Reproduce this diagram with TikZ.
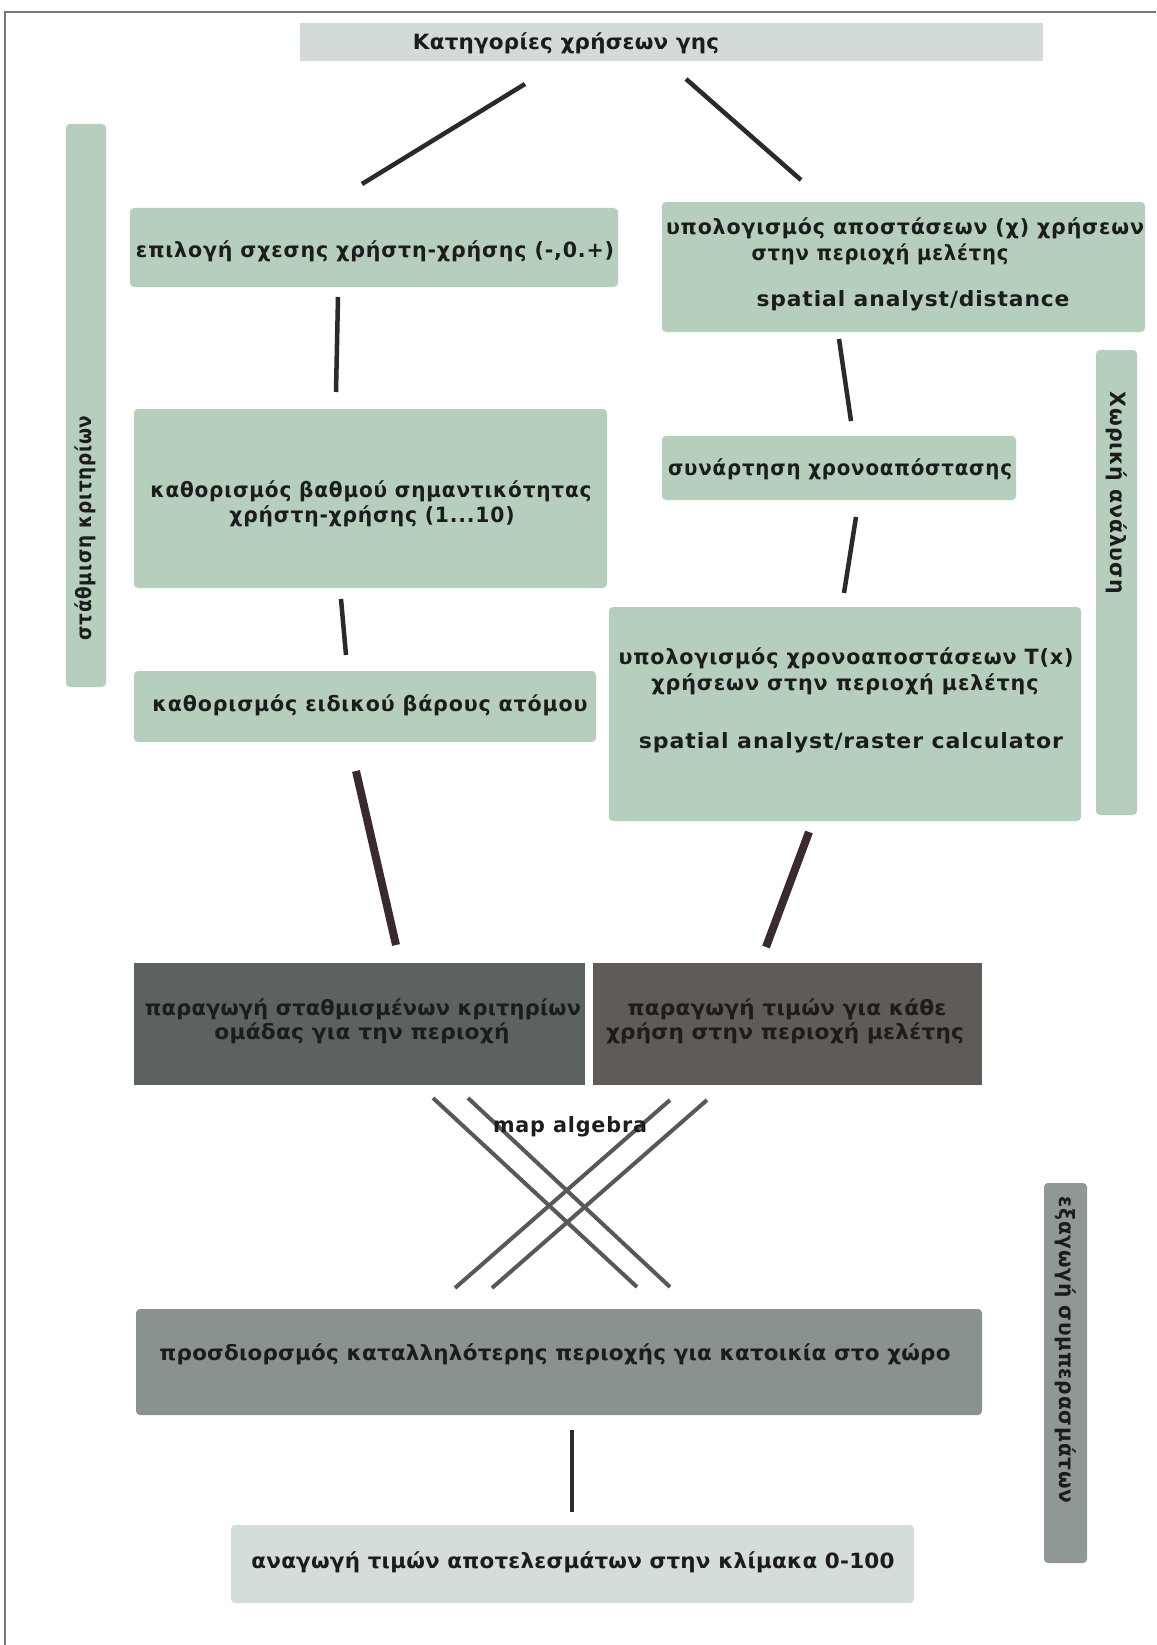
\documentclass[tikz,border=0pt]{standalone}
\usepackage{fontspec}
\usepackage{graphicx}
\setmainfont{DejaVu Sans}[LetterSpace=4]
\newfontfamily\condf{DejaVu Sans}[LetterSpace=1]
\newcommand\fitw[2]{\resizebox{#1}{\height}{#2}}
\definecolor{boxgreen}{RGB}{182,207,188}
\definecolor{topgray}{RGB}{211,219,214}
\definecolor{botgray}{RGB}{213,221,216}
\definecolor{darkA}{RGB}{92,98,94}
\definecolor{darkB}{RGB}{95,91,87}
\definecolor{midgray}{RGB}{138,146,141}
\definecolor{bargray}{RGB}{143,152,147}
\definecolor{connc}{RGB}{45,40,43}
\definecolor{thickc}{RGB}{58,42,47}
\definecolor{xlinec}{RGB}{88,88,88}
\definecolor{txtc}{RGB}{28,28,28}
\definecolor{framec}{RGB}{120,120,120}
\begin{document}
\begin{tikzpicture}[x=1pt,y=-1pt,
  box/.style={inner sep=0pt, outer sep=0pt, rounded corners=4pt},
  gbox/.style={box, fill=boxgreen},
  sqbox/.style={inner sep=0pt, outer sep=0pt},
  txt/.style={inner sep=0pt, text=txtc, font=\bfseries\fontsize{21}{24}\selectfont, text height=15pt, text depth=4.5pt},
  ctxt/.style={inner sep=0pt, text=txtc, font=\condf\bfseries\fontsize{21}{24}\selectfont, text height=15pt, text depth=4.5pt},
  conn/.style={draw=connc, line width=4.5pt},
  thick/.style={draw=thickc, line width=8pt},
  xl/.style={draw=xlinec, line width=4pt}
]
\useasboundingbox (0,0) rectangle (1156,1645);
\fill[white] (0,0) rectangle (1156,1645);
\draw[framec, line width=1.5pt] (5,1645) -- (5,12) -- (1156,12);

% boxes
\node[sqbox, fill=topgray, minimum width=743pt, minimum height=38pt] (top) at (671.5,42) {};
\node[ctxt] (topt) at (566,44) {\fitw{306pt}{Κατηγορίες χρήσεων γης}};

\node[gbox, minimum width=40pt, minimum height=563pt] (lbar) at (86,405.5) {};
\node[txt, rotate=90] (lbart) at (86,528) {\fitw{225pt}{στάθμιση κριτηρίων}};

\node[gbox, minimum width=488pt, minimum height=79pt] (b1) at (374,247.5) {};
\node[txt] (b1t) at (375,252) {\fitw{478pt}{επιλογή σχεσης χρήστη-χρήσης (-,0.+)}};

\node[gbox, minimum width=483pt, minimum height=130pt] (b2) at (903.5,267) {};
\node[txt] (b2t1) at (905,229) {\fitw{478pt}{υπολογισμός αποστάσεων (χ) χρήσεων}};
\node[txt] (b2t2) at (880,255) {\fitw{257pt}{στην περιοχή μελέτης}};
\node[txt] (b2t3) at (913,301) {\fitw{313pt}{spatial analyst/distance}};

\node[gbox, minimum width=473pt, minimum height=179pt] (b3) at (370.5,498.5) {};
\node[txt] (b3t1) at (371,492) {\fitw{441pt}{καθορισμός βαθμού σημαντικότητας}};
\node[txt] (b3t2) at (372,517) {\fitw{285pt}{χρήστη-χρήσης (1...10)}};

\node[gbox, minimum width=462pt, minimum height=71pt] (b4) at (365,706.5) {};
\node[txt] (b4t) at (370,706) {\fitw{435pt}{καθορισμός ειδικού βάρους ατόμου}};

\node[gbox, minimum width=354pt, minimum height=64pt] (b5) at (839,468) {};
\node[txt] (b5t) at (840,470) {\fitw{344pt}{συνάρτηση χρονοαπόστασης}};

\node[gbox, minimum width=472pt, minimum height=214pt] (b6) at (845,714) {};
\node[txt] (b6t1) at (846,659) {\fitw{455pt}{υπολογισμός χρονοαποστάσεων T(x)}};
\node[txt] (b6t2) at (845,685) {\fitw{387pt}{χρήσεων στην περιοχή μελέτης}};
\node[txt] (b6t3) at (851,743) {\fitw{424pt}{spatial analyst/raster calculator}};

\node[gbox, minimum width=41pt, minimum height=465pt] (rbar) at (1116.5,582.5) {};
\node[txt, rotate=-90] (rbart) at (1116,493) {\fitw{202pt}{Χωρική ανάλυση}};

\node[sqbox, fill=darkA, minimum width=451pt, minimum height=122pt] (d1) at (359.5,1024) {};
\node[ctxt] (d1t1) at (363,1010) {\fitw{436pt}{παραγωγή σταθμισμένων κριτηρίων}};
\node[ctxt] (d1t2) at (362,1034) {\fitw{295pt}{ομάδας για την περιοχή}};

\node[sqbox, fill=darkB, minimum width=389pt, minimum height=122pt] (d2) at (787.5,1024) {};
\node[ctxt] (d2t1) at (787,1010) {\fitw{319pt}{παραγωγή τιμών για κάθε}};
\node[ctxt] (d2t2) at (785,1034) {\fitw{358pt}{χρήση στην περιοχή μελέτης}};

\node[box, fill=midgray, minimum width=846pt, minimum height=106pt] (b7) at (559,1362) {};
\node[ctxt] (b7t) at (555,1355) {\fitw{791pt}{προσδιορσμός καταλληλότερης περιοχής για κατοικία στο χώρο}};

\node[box, fill=botgray, minimum width=683pt, minimum height=78pt] (b8) at (572.5,1564) {};
\node[ctxt] (b8t) at (573,1563) {\fitw{643pt}{αναγωγή τιμών αποτελεσμάτων στην κλίμακα 0-100}};

\node[box, fill=bargray, minimum width=43pt, minimum height=380pt] (bbar) at (1065.5,1373) {};
\node[txt, rotate=-90] (bbart) at (1065,1350) {\fitw{307pt}{εξαγωγή συμπερασμάτων}};

% connectors
\coordinate (l1a) at (525,84);   \coordinate (l1b) at (362,184);
\coordinate (l2a) at (686,79);   \coordinate (l2b) at (801,180);
\coordinate (l3a) at (338,297);  \coordinate (l3b) at (336,392);
\coordinate (l4a) at (341,599);  \coordinate (l4b) at (346,655);
\coordinate (l5a) at (839,339);  \coordinate (l5b) at (851,421);
\coordinate (l6a) at (856,517);  \coordinate (l6b) at (844,593);
\coordinate (l7a) at (356,771);  \coordinate (l7b) at (396,945);
\coordinate (l8a) at (809,832);  \coordinate (l8b) at (766,947);
\coordinate (l9a) at (572,1430); \coordinate (l9b) at (572,1512);
\draw[conn] (l1a) -- (l1b);
\draw[conn] (l2a) -- (l2b);
\draw[conn] (l3a) -- (l3b);
\draw[conn] (l4a) -- (l4b);
\draw[conn] (l5a) -- (l5b);
\draw[conn] (l6a) -- (l6b);
\draw[thick] (l7a) -- (l7b);
\draw[thick] (l8a) -- (l8b);
\draw[conn] (l9a) -- (l9b);

\coordinate (xa1) at (433,1098); \coordinate (xa2) at (637,1287);
\coordinate (xb1) at (468,1098); \coordinate (xb2) at (670,1287);
\coordinate (xc1) at (670,1100); \coordinate (xc2) at (455,1288);
\coordinate (xd1) at (707,1100); \coordinate (xd2) at (492,1288);
\draw[xl] (xa1) -- (xa2);
\draw[xl] (xb1) -- (xb2);
\draw[xl] (xc1) -- (xc2);
\draw[xl] (xd1) -- (xd2);
\node[txt] (mapalg) at (570,1127) {\fitw{154pt}{map algebra}};
\end{tikzpicture}
\end{document}
